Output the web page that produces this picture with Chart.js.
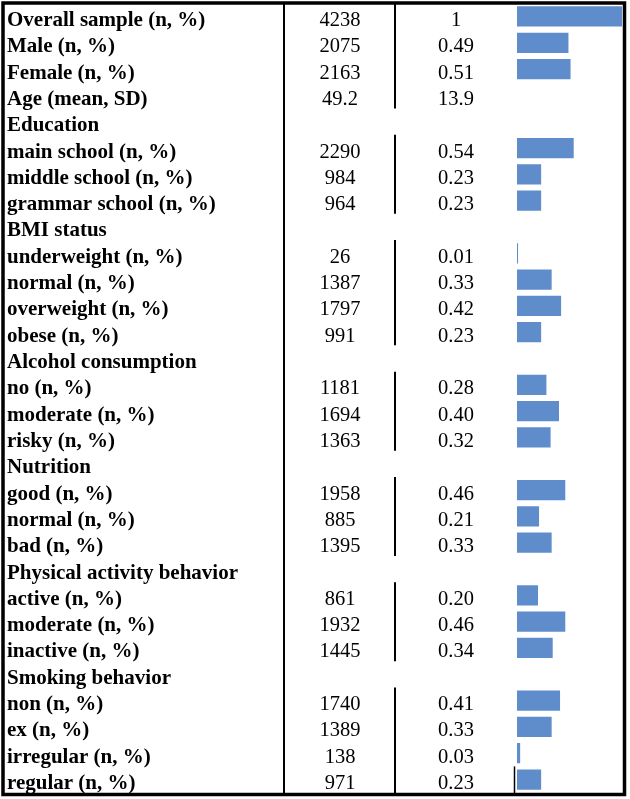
<!DOCTYPE html>
<html>
<head>
<meta charset="utf-8">
<script src="https://cdn.jsdelivr.net/npm/chart.js@4.4.1/dist/chart.umd.min.js"></script>
<style>
  body { margin: 0; background: #fff; }
  canvas { display: block; }
</style>
</head>
<body>
<canvas id="myChart" width="630" height="799"></canvas>
<script>
// rows of the table, top to bottom
const rowLabels = [
  'Overall sample (n, %)', 'Male (n, %)', 'Female (n, %)', 'Age (mean, SD)',
  'Education', 'main school (n, %)', 'middle school (n, %)', 'grammar school (n, %)',
  'BMI status', 'underweight (n, %)', 'normal (n, %)', 'overweight (n, %)', 'obese (n, %)',
  'Alcohol consumption', 'no (n, %)', 'moderate (n, %)', 'risky (n, %)',
  'Nutrition', 'good (n, %)', 'normal (n, %)', 'bad (n, %)',
  'Physical activity behavior', 'active (n, %)', 'moderate (n, %)', 'inactive (n, %)',
  'Smoking behavior', 'non (n, %)', 'ex (n, %)', 'irregular (n, %)', 'regular (n, %)'
];
const counts = [
  '4238', '2075', '2163', '49.2',
  '', '2290', '984', '964',
  '', '26', '1387', '1797', '991',
  '', '1181', '1694', '1363',
  '', '1958', '885', '1395',
  '', '861', '1932', '1445',
  '', '1740', '1389', '138', '971'
];
const shareText = [
  '1', '0.49', '0.51', '13.9',
  '', '0.54', '0.23', '0.23',
  '', '0.01', '0.33', '0.42', '0.23',
  '', '0.28', '0.40', '0.32',
  '', '0.46', '0.21', '0.33',
  '', '0.20', '0.46', '0.34',
  '', '0.41', '0.33', '0.03', '0.23'
];
const shares = [
  1, 0.49, 0.51, null,
  null, 0.54, 0.23, 0.23,
  null, 0.01, 0.33, 0.42, 0.23,
  null, 0.28, 0.40, 0.32,
  null, 0.46, 0.21, 0.33,
  null, 0.20, 0.46, 0.34,
  null, 0.41, 0.33, 0.03, 0.23
];
const headerRows = [4, 8, 13, 17, 21, 25];

const tablePlugin = {
  id: 'tableText',
  afterDraw(chart) {
    const ctx = chart.ctx;
    const y = chart.scales.y;
    const half = Math.abs(y.getPixelForValue(1) - y.getPixelForValue(0)) / 2;
    ctx.save();
    ctx.fillStyle = '#000';
    ctx.textBaseline = 'alphabetic';
    rowLabels.forEach((lab, i) => {
      const py = y.getPixelForValue(i) + 9.5;
      ctx.font = 'bold 21px "Liberation Serif", "Times New Roman", serif';
      ctx.textAlign = 'left';
      ctx.fillText(lab, 7, py);
      ctx.font = '20.5px "Liberation Serif", "Times New Roman", serif';
      ctx.textAlign = 'center';
      if (counts[i]) ctx.fillText(counts[i], 340, py);
      if (shareText[i]) ctx.fillText(shareText[i], 456, py);
    });

    ctx.strokeStyle = '#000';
    // column divider after labels
    ctx.lineWidth = 2;
    ctx.beginPath();
    ctx.moveTo(284, 3);
    ctx.lineTo(284, 795);
    ctx.stroke();

    // broken divider between n and %
    let start = 0;
    const groups = [];
    headerRows.concat([rowLabels.length]).forEach(h => {
      groups.push([start, h - 1]);
      start = h + 1;
    });
    ctx.beginPath();
    groups.forEach(([a, b]) => {
      const top = a === 0 ? 3 : y.getPixelForValue(a) - half;
      const bot = b === rowLabels.length - 1 ? 795 : y.getPixelForValue(b) + half;
      ctx.moveTo(395, top);
      ctx.lineTo(395, bot);
    });
    ctx.stroke();

    // stray axis stub next to the last bar
    ctx.lineWidth = 1.5;
    ctx.beginPath();
    ctx.moveTo(514.5, y.getPixelForValue(rowLabels.length - 1) - half);
    ctx.lineTo(514.5, 795);
    ctx.stroke();

    // outer frame
    ctx.lineWidth = 3.5;
    ctx.strokeRect(3, 3, 621.5, 791.5);
    ctx.restore();
  }
};

new Chart(document.getElementById('myChart'), {
  type: 'bar',
  data: {
    labels: rowLabels,
    datasets: [{
      data: shares,
      backgroundColor: '#5f8dcb',
      borderWidth: 0,
      barPercentage: 0.77,
      categoryPercentage: 1
    }]
  },
  options: {
    indexAxis: 'y',
    responsive: false,
    animation: false,
    layout: { padding: { left: 517, right: 8, top: 3.3, bottom: 6.3 } },
    scales: {
      x: { display: false, min: 0, max: 1 },
      y: { display: false }
    },
    plugins: {
      legend: { display: false },
      tooltip: { enabled: false }
    }
  },
  plugins: [tablePlugin]
});
</script>
</body>
</html>
